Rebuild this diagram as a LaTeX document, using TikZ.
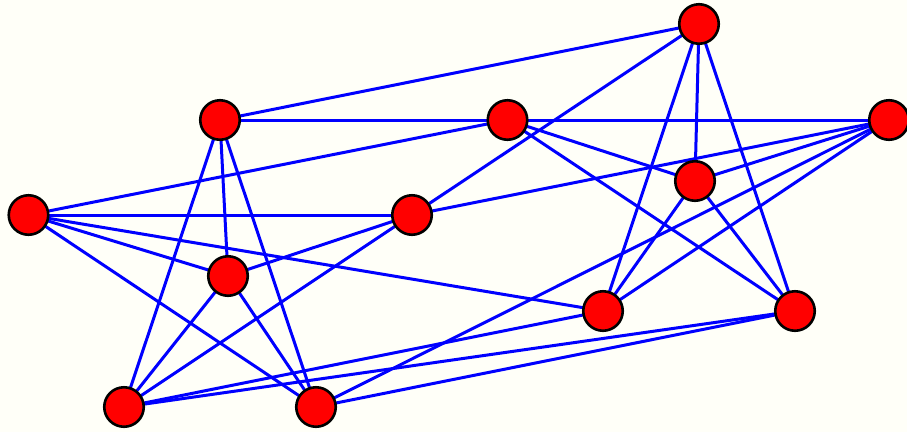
\documentclass[tikz,border=0pt]{standalone}
\usetikzlibrary{backgrounds}
\definecolor{bgcol}{RGB}{255,255,248}
\definecolor{nodered}{RGB}{255,0,0}
\definecolor{linkblue}{RGB}{0,0,255}
\begin{document}
\begin{tikzpicture}[x=1pt,y=-1pt,
  vtx/.style={circle,fill=nodered,draw=black,line width=2.6pt,minimum size=39.5pt,inner sep=0pt},
  link/.style={draw=linkblue,line width=3pt}]
\useasboundingbox (0,0) rectangle (907,432);
% left star
\node[vtx] (B) at (220,120) {};
\node[vtx] (E) at (28.5,215) {};
\node[vtx] (F) at (412,215) {};
\node[vtx] (H) at (228,276) {};
\node[vtx] (K) at (124,407) {};
\node[vtx] (L) at (316,407) {};
% right star
\node[vtx] (A) at (699,24) {};
\node[vtx] (C) at (507.5,120) {};
\node[vtx] (D) at (889,120) {};
\node[vtx] (G) at (695,181) {};
\node[vtx] (I) at (603,311) {};
\node[vtx] (J) at (795,311) {};
\begin{scope}[on background layer]
\fill[bgcol] (0,0) rectangle (907,432);
% left internal
\foreach \u/\v in {B/K,B/H,B/L,E/F,E/H,E/L,F/H,F/K,H/K,H/L}
  \draw[link] (\u.center) -- (\v.center);
% right internal
\foreach \u/\v in {A/I,A/G,A/J,C/D,C/G,C/J,D/G,D/I,G/I,G/J}
  \draw[link] (\u.center) -- (\v.center);
% cross
\foreach \u/\v in {B/A,B/C,E/C,E/I,K/I,K/J,L/J,L/D,F/D,F/A}
  \draw[link] (\u.center) -- (\v.center);
\end{scope}
\end{tikzpicture}
\end{document}
